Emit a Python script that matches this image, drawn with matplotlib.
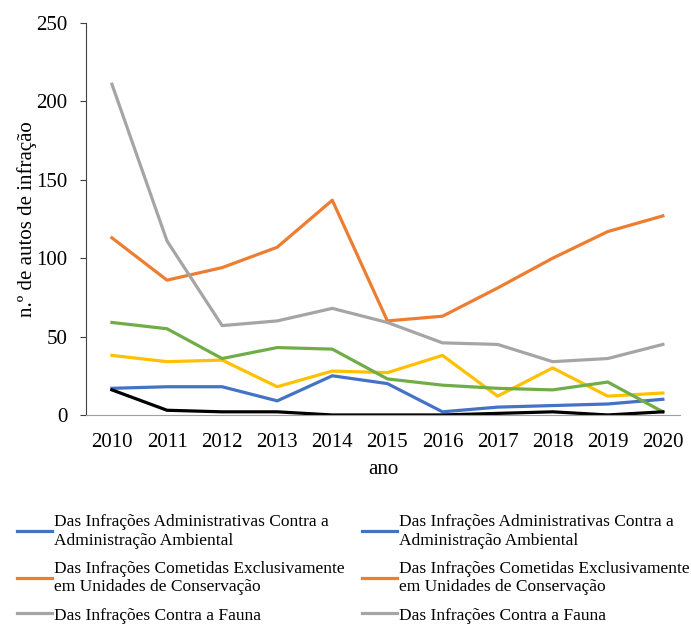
import matplotlib.pyplot as plt
from matplotlib.ticker import MultipleLocator

plt.rcParams['font.family'] = ['Liberation Serif', 'DejaVu Serif']

anos = [2010, 2011, 2012, 2013, 2014, 2015, 2016, 2017, 2018, 2019, 2020]

administrativas = [17, 18, 18, 9, 25, 20, 2, 5, 6, 7, 10]
unidades_conservacao = [113, 86, 94, 107, 137, 60, 63, 81, 100, 117, 127]
fauna = [211, 111, 57, 60, 68, 59, 46, 45, 34, 36, 45]
serie_amarela = [38, 34, 35, 18, 28, 27, 38, 12, 30, 12, 14]
serie_verde = [59, 55, 36, 43, 42, 23, 19, 17, 16, 21, 2]
serie_preta = [16, 3, 2, 2, 0, 0, 0, 1, 2, 0, 2]

nome_adm = "Das Infrações Administrativas Contra a\nAdministração Ambiental"
nome_uc = "Das Infrações Cometidas Exclusivamente\nem Unidades de Conservação"
nome_fauna = "Das Infrações Contra a Fauna"

fig = plt.figure(figsize=(6.91, 6.24), dpi=100)
ax = fig.add_axes([0.1245, 0.335, 0.8595, 0.628])

lw = 2.3
l_adm, = ax.plot(anos, administrativas, color='#4472C4', lw=lw)
l_uc, = ax.plot(anos, unidades_conservacao, color='#ED7D31', lw=lw)
l_fauna, = ax.plot(anos, fauna, color='#A5A5A5', lw=lw)
ax.plot(anos, serie_amarela, color='#FFC000', lw=lw)
ax.plot(anos, serie_verde, color='#70AD47', lw=lw)
ax.plot(anos, serie_preta, color='black', lw=lw)

ax.set_ylim(0, 250)
ax.set_xlim(2009.53, 2020.31)
ax.yaxis.set_major_locator(MultipleLocator(50))
ax.set_xticks(anos)
ax.tick_params(axis='x', length=0, labelsize=15, pad=13)
ax.tick_params(axis='y', length=4.3, labelsize=15, color='#404040', pad=9)
for s in ['top', 'right']:
    ax.spines[s].set_visible(False)
ax.spines['left'].set_color('#404040')
ax.spines['bottom'].set_color('#A0A0A0')
ax.set_xlabel('ano', fontsize=15, labelpad=6)
ax.set_ylabel('n.º de autos de infração', fontsize=15, labelpad=-0.5)

# legenda em duas colunas (cortada na parte de baixo, como no original)
handles = [l_adm, l_uc, l_fauna, l_adm, l_uc, l_fauna]
labels = [nome_adm, nome_uc, nome_fauna, nome_adm, nome_uc, nome_fauna]
fig.legend(handles, labels, loc='upper left', bbox_to_anchor=(0.015, 0.187),
           ncol=2, frameon=False, fontsize=12.5, handlelength=2.0,
           handletextpad=0.1, columnspacing=1.03, labelspacing=0.7,
           borderaxespad=0)

fig.savefig('out.png', dpi=100)
